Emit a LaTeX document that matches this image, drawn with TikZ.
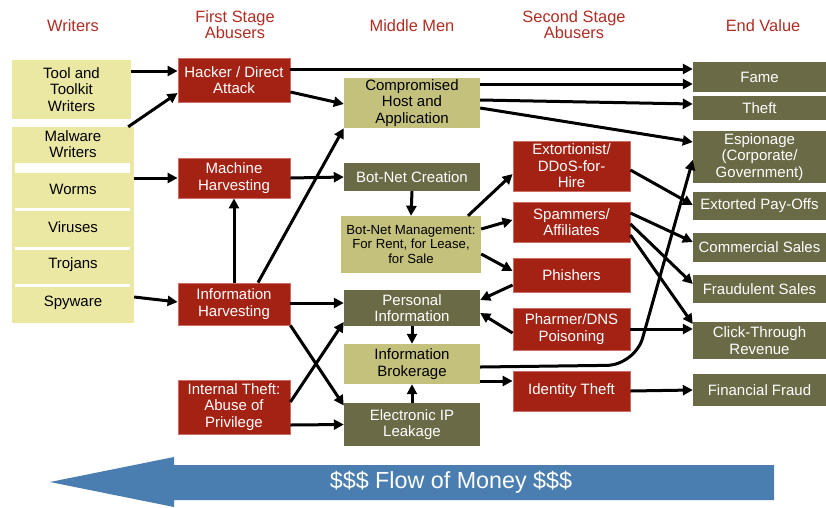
\documentclass[tikz,border=0pt]{standalone}
\usepackage{fontspec}
\setmainfont{Liberation Sans}
\usetikzlibrary{positioning,arrows.meta}
\tikzset{>={Triangle[length=10pt,width=10pt]}}
\definecolor{wryel}{RGB}{235,232,163}
\definecolor{abred}{RGB}{163,34,20}
\definecolor{abedge}{RGB}{205,110,100}
\definecolor{olvlt}{RGB}{196,193,124}
\definecolor{olvdk}{RGB}{107,106,70}
\definecolor{headred}{RGB}{175,45,35}
\definecolor{flowblue}{RGB}{74,126,177}
\tikzset{
  box/.style={inner sep=0pt, align=center, font=\fontsize{15}{16.5}\selectfont},
  wbox/.style={box, fill=wryel},
  witem/.style={box, minimum width=122pt},
  rbox/.style={box, fill=abred, draw=abedge, line width=0.8pt, text=white, minimum width=112pt},
  sbox/.style={rbox, minimum width=117pt},
  lbox/.style={box, fill=olvlt, minimum width=136pt},
  dbox/.style={box, fill=olvdk, text=white, minimum width=136pt},
  ebox/.style={box, fill=olvdk, text=white, minimum width=133pt},
  head/.style={align=center, text=headred, font=\fontsize{16.4}{16}\selectfont},
  conn/.style={->, line width=3pt}
}

\begin{document}
\begin{tikzpicture}[x=1pt,y=-1pt]
\useasboundingbox (0,0) rectangle (826,507);
% column heads
\node[head] (hw) at (73,26) {Writers};
\node[head] (h1) at (235,25) {First Stage\\Abusers};
\node[head] (hm) at (412,26) {Middle Men};
\node[head] (h2) at (574,25) {Second Stage\\Abusers};
\node[head] (he) at (763,26) {End Value};

% writers
\node[wbox, minimum width=119pt, minimum height=59pt] (tool) at (71.5,89.5) {Tool and\\Toolkit\\Writers};
\node[wbox, minimum width=122pt, minimum height=196pt] (mal) at (73,225) {};
\fill[white] (15,163) rectangle (130,173);
\fill[white] (15,208) rectangle (130,211);
\fill[white] (15,247) rectangle (130,250);
\fill[white] (15,284) rectangle (130,287);
\node[witem] (mww) at (73,144) {Malware\\Writers};
\node[witem] (worms) at (73,189) {Worms};
\node[witem] (vir) at (73,227) {Viruses};
\node[witem] (troj) at (73,265) {Trojans};
\node[witem] (spy) at (73,303) {Spyware};

% first stage
\node[rbox, minimum height=44pt] (hack) at (234,80) {Hacker / Direct\\Attack};
\node[rbox, minimum height=40pt] (mach) at (234,178) {Machine\\Harvesting};
\node[rbox, minimum height=42pt] (hinf) at (234,304) {Information\\Harvesting};
\node[rbox, minimum height=54pt] (intl) at (234,407) {Internal Theft:\\Abuse of\\Privilege};

% middle men
\node[lbox, minimum height=50pt] (comp) at (412,103) {Compromised\\Host and\\Application};
\node[dbox, minimum height=28pt] (bcre) at (412,177) {Bot-Net Creation};
\node[lbox, minimum width=140pt, minimum height=57pt, font=\fontsize{13.2}{14.5}\selectfont] (bman) at (411,244.5) {Bot-Net Management:\\For Rent, for Lease,\\for Sale};
\node[dbox, minimum height=36pt] (pers) at (412,308) {Personal\\Information};
\node[lbox, minimum height=40pt] (brok) at (412,364) {Information\\Brokerage};
\node[dbox, minimum height=43pt] (leak) at (412,424.5) {Electronic IP\\Leakage};

% second stage
\node[sbox, minimum height=50pt] (extn) at (571.5,166) {Extortionist/\\DDoS-for-\\Hire};
\node[sbox, minimum height=40pt] (spam) at (571.5,222) {Spammers/\\Affiliates};
\node[sbox, minimum height=34pt] (phis) at (571.5,275) {Phishers};
\node[sbox, minimum height=42pt] (phar) at (571.5,329) {Pharmer/DNS\\Poisoning};
\node[sbox, minimum height=40pt] (idth) at (571.5,391) {Identity Theft};

% end value
\node[ebox, minimum height=30pt] (fame) at (759.5,77) {Fame};
\node[ebox, minimum height=24pt] (theft) at (759.5,108) {Theft};
\node[ebox, minimum height=52pt] (espi) at (759.5,157) {Espionage\\(Corporate/\\Government)};
\node[ebox, minimum height=28pt] (extp) at (759.5,206) {Extorted Pay-Offs};
\node[ebox, minimum height=29pt] (coms) at (759.5,247.5) {Commercial Sales};
\node[ebox, minimum height=28pt] (frau) at (759.5,289) {Fraudulent Sales};
\node[ebox, minimum height=37pt] (clik) at (759.5,340.5) {Click-Through\\Revenue};
\node[ebox, minimum height=32pt] (finf) at (759.5,390) {Financial Fraud};

% connectors
\draw[conn] ([yshift=18.5pt]tool.east) -- ([yshift=9pt]hack.west);
\draw[conn] ([xshift=-6pt]mal.north east) -- ([yshift=-13pt]hack.west);
\draw[conn] ([yshift=11pt]hack.east) -- ([yshift=8pt]fame.west);
\draw[conn] ([yshift=-12pt]hack.east) -- ([yshift=-1pt]comp.west);
\draw[conn] ([yshift=19pt]comp.east) -- ([yshift=-7pt]fame.west);
\draw[conn] ([yshift=3pt]comp.east) -- ([yshift=4pt]theft.west);
\draw[conn] ([yshift=-5pt]comp.east) -- ([yshift=15pt]espi.west);
\draw[conn] ([yshift=11pt]worms.east) -- (mach.west);
\draw[conn] (mach.east) -- (bcre.west);
\draw[conn] (hinf.north) -- (mach.south);
\draw[conn] ([xshift=24pt]hinf.north) -- (comp.south west);
\draw[conn] ([yshift=6pt]spy.east) -- ([yshift=2pt]hinf.west);
\draw[conn] (bcre.south) -- (bman.north);
\draw[conn] ([yshift=1pt]hinf.east) -- ([yshift=5pt]pers.west);
\draw[conn] (hinf.south east) -- ([yshift=19pt]leak.west);
\draw[conn] ([yshift=5pt]intl.east) -- ([yshift=-14pt]pers.west);
\draw[conn] ([yshift=-18pt]intl.east) -- (leak.west);
\draw[conn] (pers.south) -- (brok.north);
\draw[conn] (leak.north) -- (brok.south);
\draw[conn] ([xshift=57pt]bman.north) -- ([yshift=-8pt]extn.west);
\draw[conn] ([yshift=15.5pt]bman.east) -- ([yshift=2pt]spam.west);
\draw[conn] ([yshift=-9.5pt]bman.east) -- ([yshift=4pt]phis.west);
\draw[conn] ([yshift=-10pt]phis.west) -- ([yshift=8pt]pers.east);
\draw[conn] ([yshift=-4pt]phar.west) -- ([yshift=-5pt]pers.east);
\draw[conn] (phar.east) -- ([yshift=11.5pt]clik.west);
\coordinate (bend) at (635,365);
\draw[conn, rounded corners=28pt] ([yshift=-3pt]brok.east) -- (bend) -- ([yshift=-3pt]espi.west);
\draw[conn] ([yshift=-4pt]extn.east) -- ([yshift=1pt]extp.west);
\draw[conn] ([yshift=9pt]spam.east) -- ([yshift=5.5pt]coms.west);
\draw[conn] ([yshift=-2pt]spam.east) -- ([yshift=5pt]frau.west);
\draw[conn] ([yshift=-13pt]spam.east) -- ([yshift=16.5pt]clik.west);
\draw[conn] (idth.east) -- (finf.west);
\draw[conn] ([yshift=-17pt]brok.east) -- ([yshift=10pt]idth.west);

% money arrow
\fill[flowblue] (774,465) -- (174,465) -- (174,457) -- (50,482) -- (174,507) -- (174,500) -- (774,500) -- cycle;
\node[text=white, font=\fontsize{23.3}{26}\selectfont] (flow) at (451,482) {\$\$\$ Flow of Money \$\$\$};
\end{tikzpicture}
\end{document}
